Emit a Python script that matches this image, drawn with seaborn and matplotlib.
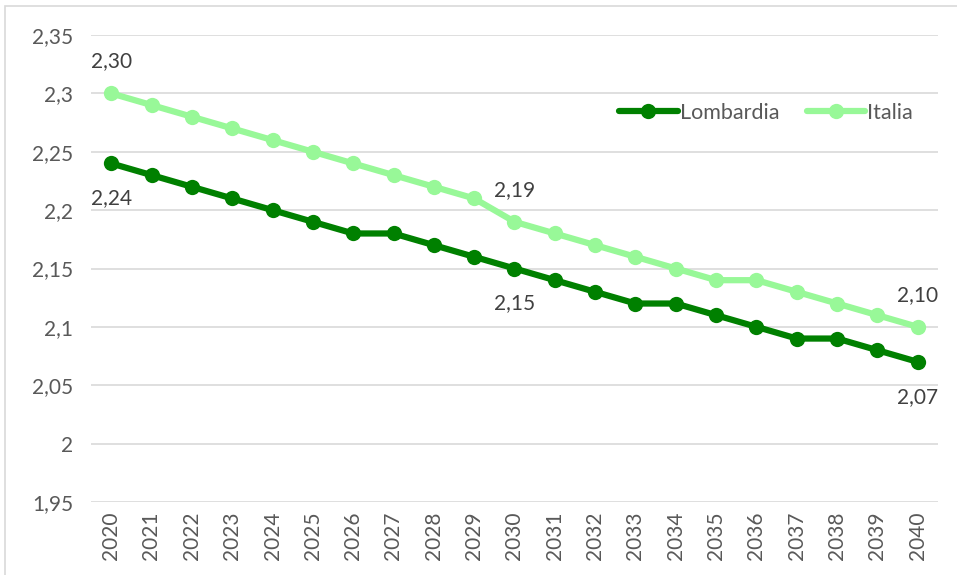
import numpy as np
import matplotlib
matplotlib.use("Agg")
import matplotlib.pyplot as plt
import pandas as pd
import seaborn as sns

# data
years = [str(y) for y in range(2020, 2041)]
lombardia = [2.24, 2.23, 2.22, 2.21, 2.20, 2.19, 2.18, 2.18, 2.17, 2.16, 2.15,
             2.14, 2.13, 2.12, 2.12, 2.11, 2.10, 2.09, 2.09, 2.08, 2.07]
italia = [2.30, 2.29, 2.28, 2.27, 2.26, 2.25, 2.24, 2.23, 2.22, 2.21, 2.19,
          2.18, 2.17, 2.16, 2.15, 2.14, 2.14, 2.13, 2.12, 2.11, 2.10]
yticks = [1.95, 2.0, 2.05, 2.1, 2.15, 2.2, 2.25, 2.3, 2.35]
ytick_labels = ["1,95", "2", "2,05", "2,1", "2,15", "2,2", "2,25", "2,3", "2,35"]

df = pd.DataFrame({
    "anno": years * 2,
    "valore": lombardia + italia,
    "serie": ["Lombardia"] * len(years) + ["Italia"] * len(years),
})

sns.set_style("white")
plt.rcParams['font.family'] = ['Lato', 'DejaVu Sans']

fig = plt.figure(figsize=(9.57, 5.75), dpi=100)
# outer chart border
fig.patches.append(plt.Rectangle((5 / 957, -0.01), 1.0, 1 - 6 / 575 + 0.01,
                                 transform=fig.transFigure, fill=False,
                                 edgecolor="#d9d9d9", linewidth=1.2))
ax = fig.add_axes([91 / 957, 1 - 502 / 575, (938 - 91) / 957, (502 - 35) / 575])

colors = {"Lombardia": "#008000", "Italia": "#98F898"}
sns.lineplot(data=df, x="anno", y="valore", hue="serie", palette=colors,
             marker="o", markersize=11, markeredgewidth=0, linewidth=4.5,
             sort=False, ax=ax)

ax.set_ylim(1.95, 2.35)
ax.set_xlim(-0.5, len(years) - 0.5)
ax.set_yticks(yticks)
ax.set_yticklabels(ytick_labels)
ax.set_xticks(range(len(years)))
ax.set_xticklabels(years, rotation=90)
ax.set_xlabel("")
ax.set_ylabel("")
ax.tick_params(axis="both", colors="#595959", labelsize=15, length=0)
ax.tick_params(axis="y", pad=13)
ax.tick_params(axis="x", pad=7)
ax.yaxis.grid(True, color="#d9d9d9", linewidth=1.2)
ax.set_axisbelow(True)
for s in ax.spines.values():
    s.set_visible(False)

# data labels
def fmt(v):
    return f"{v:.2f}".replace(".", ",")

for i in [0, 10, 20]:
    ax.annotate(fmt(italia[i]), (i, italia[i]), xytext=(0, 23), textcoords="offset points",
                ha="center", va="center", fontsize=15, color="#404040")
    ax.annotate(fmt(lombardia[i]), (i, lombardia[i]), xytext=(0, -25), textcoords="offset points",
                ha="center", va="center", fontsize=15, color="#404040")

leg = ax.legend(loc="center right", bbox_to_anchor=(0.986, 0.834), ncol=2, frameon=False,
                fontsize=15.5, handlelength=2.7, columnspacing=1.3, handletextpad=0.1,
                borderaxespad=0.2)
for t in leg.get_texts():
    t.set_color("#595959")

fig.savefig("out.png", dpi=100)
